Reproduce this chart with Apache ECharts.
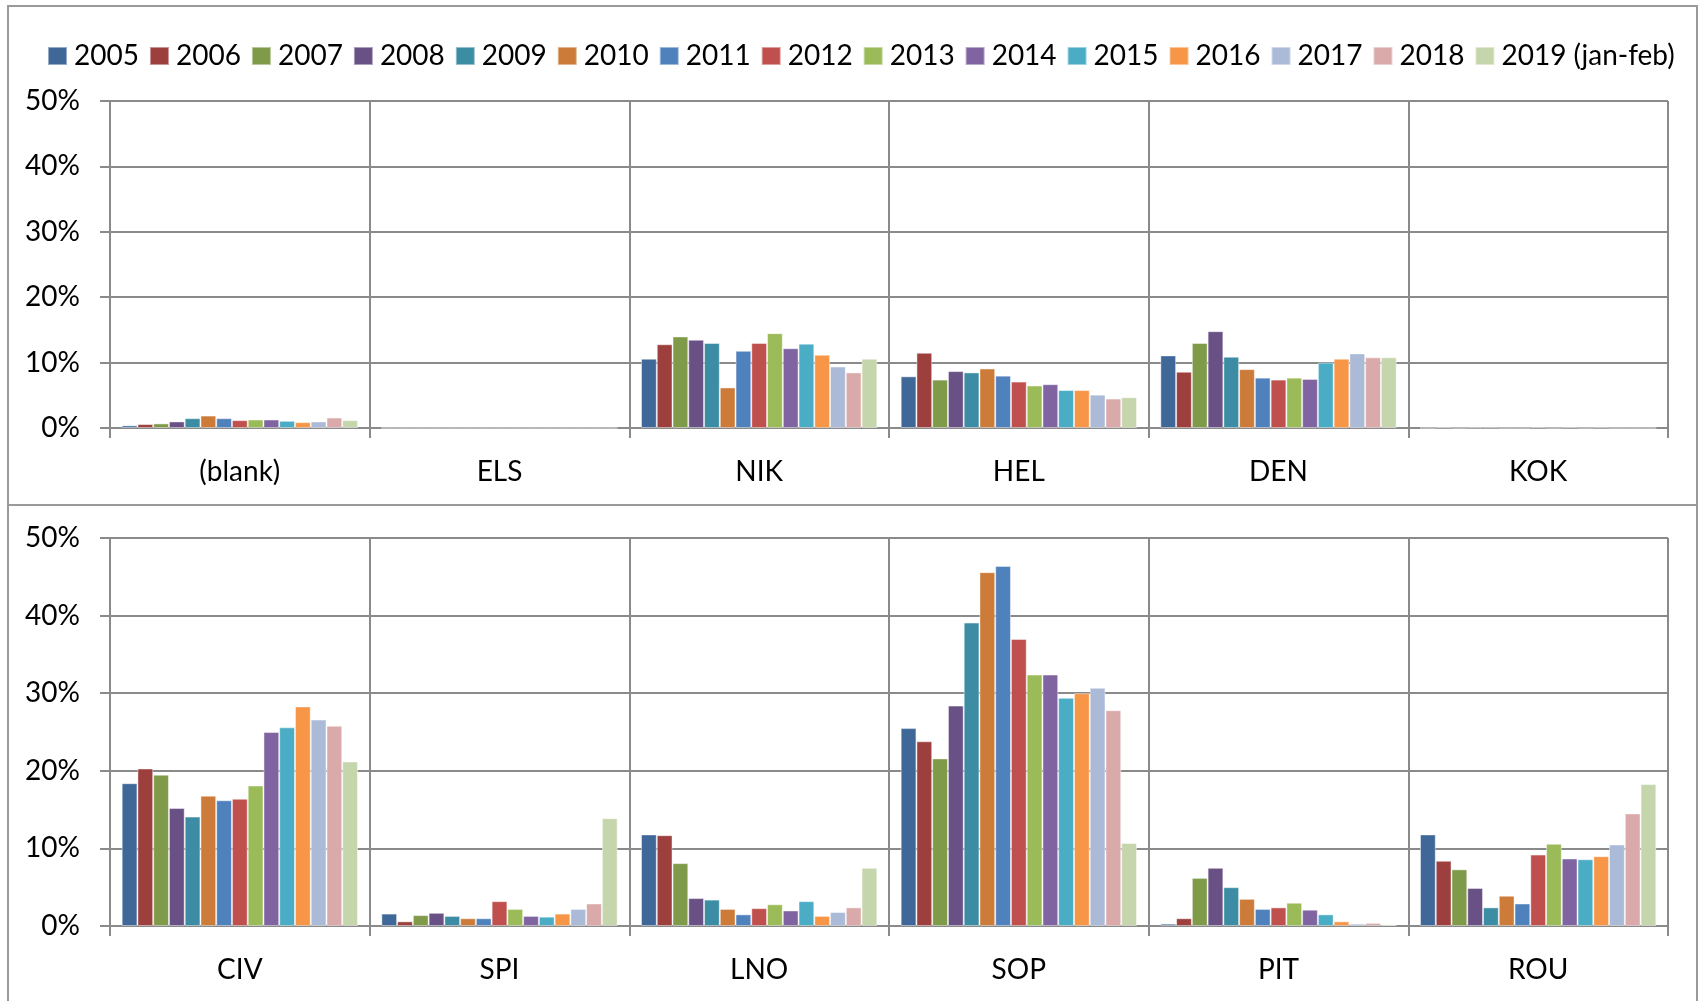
<!DOCTYPE html>
<html>
<head>
<meta charset="utf-8">
<script src="https://cdn.jsdelivr.net/npm/echarts@6/dist/echarts.min.js"></script>
<style>
  html, body { margin: 0; padding: 0; background: #fff; }
  #chart { position: absolute; left: 0; top: 0; width: 1703px; height: 1001px; }
  .frame { position: absolute; border: 2px solid #9a9a9a; box-sizing: border-box; pointer-events: none; }
</style>
</head>
<body>
<div class="frame" style="left:7px; top:5px; width:1691px; height:501px;"></div>
<div class="frame" style="left:7px; top:504px; width:1691px; height:520px;"></div>
<div id="chart"></div>
<script>
const years = ['2005', '2006', '2007', '2008', '2009', '2010', '2011', '2012',
    '2013', '2014', '2015', '2016', '2017', '2018', '2019 (jan-feb)'];
const colors = ['#3f6899', '#9c3f3d', '#7f9a48', '#695185', '#3c8da3', '#cc7b38', '#4f81bd',
    '#c0504d', '#9bbb59', '#8064a2', '#4bacc6', '#f79646', '#aabad7', '#d9aaa9', '#c6d6ac'];
const yTicks = ['0%', '10%', '20%', '30%', '40%', '50%'];

// top panel
const topCats = ['(blank)', 'ELS', 'NIK', 'HEL', 'DEN', 'KOK'];
const blank = [0.4, 0.6, 0.7, 1.0, 1.5, 1.9, 1.5, 1.2, 1.3, 1.3, 1.1, 0.9, 1.0, 1.6, 1.2];
const els = [0, 0, 0, 0, 0, 0, 0, 0, 0, 0, 0, 0, 0, 0, 0];
const nik = [10.6, 12.8, 14.0, 13.5, 13.0, 6.2, 11.8, 13.0, 14.5, 12.2, 12.9, 11.2, 9.4, 8.5, 10.6];
const hel = [7.9, 11.5, 7.4, 8.7, 8.5, 9.1, 8.0, 7.1, 6.5, 6.7, 5.8, 5.8, 5.1, 4.5, 4.7];
const den = [11.1, 8.6, 13.0, 14.8, 10.9, 9.0, 7.7, 7.4, 7.7, 7.5, 10.0, 10.6, 11.4, 10.8, 10.8];
const kok = [0, 0.08, 0, 0.06, 0.06, 0, 0, 0.08, 0, 0.08, 0, 0.06, 0, 0, 0];

// bottom panel
const bottomCats = ['CIV', 'SPI', 'LNO', 'SOP', 'PIT', 'ROU'];
const civ = [18.4, 20.3, 19.5, 15.2, 14.1, 16.8, 16.2, 16.4, 18.1, 25.0, 25.6, 28.3, 26.6, 25.8, 21.2];
const spi = [1.6, 0.6, 1.4, 1.7, 1.3, 1.0, 1.0, 3.2, 2.2, 1.3, 1.2, 1.6, 2.2, 2.9, 13.9];
const lno = [11.8, 11.7, 8.1, 3.6, 3.4, 2.2, 1.5, 2.3, 2.8, 2.0, 3.2, 1.3, 1.8, 2.4, 7.5];
const sop = [25.5, 23.8, 21.6, 28.4, 39.1, 45.6, 46.4, 37.0, 32.4, 32.4, 29.4, 30.0, 30.7, 27.8, 10.7];
const pit = [0.3, 1.0, 6.2, 7.5, 5.0, 3.5, 2.2, 2.4, 3.0, 2.1, 1.5, 0.6, 0.3, 0.4, 0.2];
const rou = [11.8, 8.4, 7.3, 4.9, 2.4, 3.9, 2.9, 9.2, 10.6, 8.7, 8.6, 9.0, 10.5, 14.5, 18.3];

const topRows = [blank, els, nik, hel, den, kok];
const bottomRows = [civ, spi, lno, sop, pit, rou];

const font = 'Lato, "Open Sans", sans-serif';
const lineColor = '#8a8a8a';

let chart = echarts.init(document.getElementById('chart'));

const makeX = function (cats, gridIndex) {
    return {
        type: 'category',
        gridIndex: gridIndex,
        data: cats,
        boundaryGap: true,
        axisLine: { show: true, lineStyle: { color: lineColor, width: 2 } },
        axisTick: { show: true, inside: false, length: 10, lineStyle: { color: lineColor, width: 2 } },
        splitLine: { show: true, lineStyle: { color: lineColor, width: 2 } },
        axisLabel: { color: '#000', fontSize: 28, fontFamily: font, margin: 30 }
    };
};
const makeY = function (gridIndex) {
    return {
        type: 'value',
        gridIndex: gridIndex,
        min: 0,
        max: 50,
        interval: 10,
        axisLine: { show: true, lineStyle: { color: lineColor, width: 2 } },
        axisTick: { show: true, inside: false, length: 10, lineStyle: { color: lineColor, width: 2 } },
        splitLine: { show: true, lineStyle: { color: lineColor, width: 2 } },
        axisLabel: {
            color: '#000', fontSize: 28, fontFamily: font, margin: 30,
            formatter: function (v) { return yTicks[Math.round(v / 10)]; }
        }
    };
};
const makeSeries = function (rows, axisIndex) {
    return years.map(function (y, i) {
        return {
            name: y,
            type: 'bar',
            xAxisIndex: axisIndex,
            yAxisIndex: axisIndex,
            barGap: '0%',
            barCategoryGap: '9%',
            itemStyle: { color: colors[i], borderColor: 'rgba(255,255,255,0.45)', borderWidth: 1 },
            data: rows.map(function (r) { return r[i]; })
        };
    });
};

chart.setOption({
    animation: false,
    backgroundColor: 'transparent',
    legend: {
        data: years,
        left: 42,
        top: 37,
        width: 1655,
        icon: 'rect',
        itemWidth: 19,
        itemHeight: 18,
        itemGap: 10,
        textStyle: { color: '#000', fontSize: 28, fontFamily: font, padding: [0, 0, 0, 2] }
    },
    grid: [
        { left: 110, right: 35, top: 101, height: 327 },
        { left: 110, right: 35, top: 538, height: 388 }
    ],
    xAxis: [makeX(topCats, 0), makeX(bottomCats, 1)],
    yAxis: [makeY(0), makeY(1)],
    series: makeSeries(topRows, 0).concat(makeSeries(bottomRows, 1))
});
</script>
</body>
</html>
